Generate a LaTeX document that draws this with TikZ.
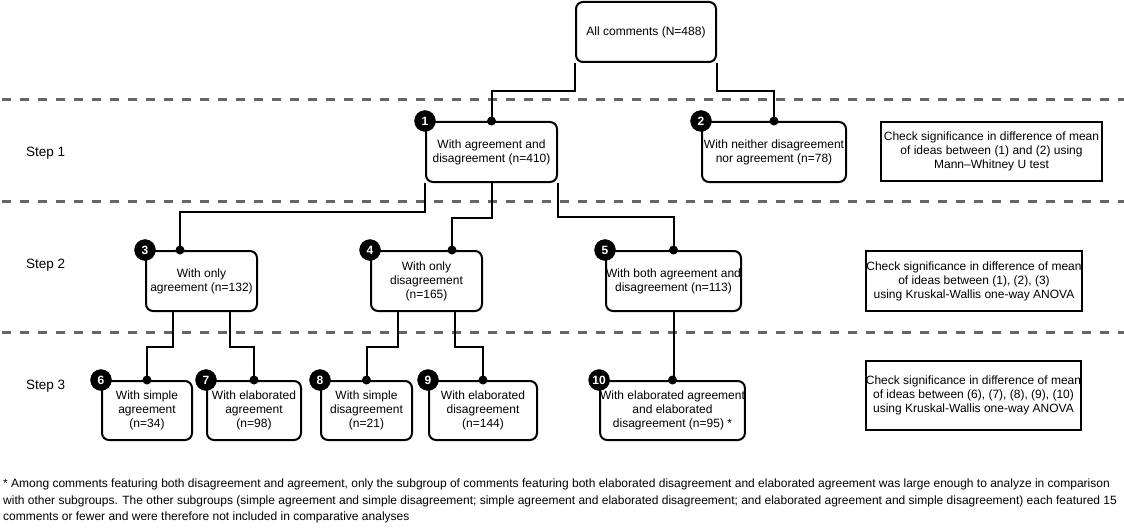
\documentclass[tikz,border=0pt]{standalone}
\usepackage{fontspec}
\setmainfont{Liberation Sans}
\usetikzlibrary{calc}
\newcommand\myfs{\fontsize{12}{14}\selectfont}
\begin{document}
\begin{tikzpicture}[x=1pt,y=-1pt,
  box/.style={draw, line width=2pt, rounded corners=7pt, align=center, inner sep=0pt, font=\myfs},
  chk/.style={draw, line width=2pt, align=center, inner sep=0pt, font=\myfs},
  badge/.style={circle, fill=black, draw=black, minimum size=21pt, inner sep=0pt, text=white, font=\bfseries\fontsize{12}{12}\selectfont},
  conn/.style={line width=2pt},
  sepline/.style={line width=3pt, draw={rgb,255:red,102;green,102;blue,102}, dash pattern=on 9pt off 9pt, dash phase=-2pt},
  steplbl/.style={anchor=west, inner sep=0pt, font=\fontsize{13.5}{16}\selectfont},
  foot/.style={align=left, inner sep=0pt, anchor=north west, font=\fontsize{12}{16.5}\selectfont}]
\useasboundingbox (0,0) rectangle (1124,532);

% separators
\draw[sepline] (0,100) -- (1124,100);
\draw[sepline] (0,201) -- (1124,201);
\draw[sepline] (0,332) -- (1124,332);

% step labels
\node[steplbl] (s1) at (26,153) {Step 1};
\node[steplbl] (s2) at (26,265) {Step 2};
\node[steplbl] (s3) at (26,386) {Step 3};

% boxes
\node[box, minimum width=140pt, minimum height=60pt] (root) at (646,32) {All comments (N=488)};
\node[box, minimum width=131pt, minimum height=60pt] (b1) at (491.5,152) {With agreement and\\disagreement (n=410)};
\node[box, minimum width=144pt, minimum height=60pt] (b2) at (774,152) {With neither disagreement\\nor agreement (n=78)};
\node[chk, minimum width=221pt, minimum height=59pt] (c1) at (991.5,151.5) {Check significance in difference of mean\\of ideas between (1) and (2) using\\Mann–Whitney U test};

\node[box, minimum width=111pt, minimum height=60pt] (b3) at (201.5,281) {With only\\agreement (n=132)};
\node[box, minimum width=111pt, minimum height=60pt] (b4) at (426.5,281) {With only\\disagreement\\(n=165)};
\node[box, minimum width=135pt, minimum height=60pt] (b5) at (673.5,281) {With both agreement and\\disagreement (n=113)};
\node[chk, minimum width=210pt, minimum height=60pt] (c2) at (974,281) {Check significance in difference of mean\\of ideas between (1), (2), (3)\\using Kruskal-Wallis one-way ANOVA};

\node[box, minimum width=90pt, minimum height=59pt] (b6) at (147,410.5) {With simple\\agreement\\(n=34)};
\node[box, minimum width=94pt, minimum height=59pt] (b7) at (254,410.5) {With elaborated\\agreement\\(n=98)};
\node[box, minimum width=91pt, minimum height=59pt] (b8) at (366.5,410.5) {With simple\\disagreement\\(n=21)};
\node[box, minimum width=108pt, minimum height=59pt] (b9) at (483,410.5) {With elaborated\\disagreement\\(n=144)};
\node[box, minimum width=143pt, minimum height=59pt] (b10) at (672.5,410.5) {With elaborated agreement\\and elaborated\\disagreement (n=95) *};
\node[chk, minimum width=209pt, minimum height=69pt] (c3) at (973.5,395.5) {Check significance in difference of mean\\of ideas between (6), (7), (8), (9), (10)\\using Kruskal-Wallis one-way ANOVA};

% named connection points
\coordinate (b3in) at ($(b3.north west)+(35,0)$);
\coordinate (b4in) at ($(b4.north west)+(82,0)$);
\coordinate (b3l) at ($(b3.south west)!0.25!(b3.south east)$);
\coordinate (b3r) at ($(b3.south west)!0.75!(b3.south east)$);
\coordinate (b4l) at ($(b4.south west)!0.25!(b4.south east)$);
\coordinate (b4r) at ($(b4.south west)!0.75!(b4.south east)$);

% connectors
\draw[conn] (root.south west) -- ++(0,28) -| (b1.north);
\draw[conn] (root.south east) -- ++(0,28) -| (b2.north);
\draw[conn] (b1.south west) -- ++(0,29) -| (b3in);
\draw[conn] (b1.south) -- ++(0,35) -| (b4in);
\draw[conn] (b1.south east) -- ++(0,34) -| (b5.north);
\draw[conn] (b3l) -- ++(0,35) -| (b6.north);
\draw[conn] (b3r) -- ++(0,35) -| (b7.north);
\draw[conn] (b4l) -- ++(0,35) -| (b8.north);
\draw[conn] (b4r) -- ++(0,35) -| (b9.north);
\draw[conn] (b5.south) -- (b5.south |- b10.north);

% end dots
\foreach \p in {b1.north, b2.north, b3in, b4in, b5.north, b6.north, b7.north, b8.north, b9.north, b10.north}
  \fill (\p) circle (4.5pt);

% badges
\node[badge] (n1) at (b1.north west) {1};
\node[badge] (n2) at (b2.north west) {2};
\node[badge] (n3) at (b3.north west) {3};
\node[badge] (n4) at (b4.north west) {4};
\node[badge] (n5) at (b5.north west) {5};
\node[badge] (n6) at (b6.north west) {6};
\node[badge] (n7) at (b7.north west) {7};
\node[badge] (n8) at (b8.north west) {8};
\node[badge] (n9) at (b9.north west) {9};
\node[badge] (n10) at (b10.north west) {10};

% footnote
\node[foot] (fn) at (3,479) {* Among comments featuring both disagreement and agreement, only the subgroup of comments featuring both elaborated disagreement and elaborated agreement was large enough to analyze in comparison\\with other subgroups. The other subgroups (simple agreement and simple disagreement; simple agreement and elaborated disagreement; and elaborated agreement and simple disagreement) each featured 15\\comments or fewer and were therefore not included in comparative analyses};
\end{tikzpicture}
\end{document}
